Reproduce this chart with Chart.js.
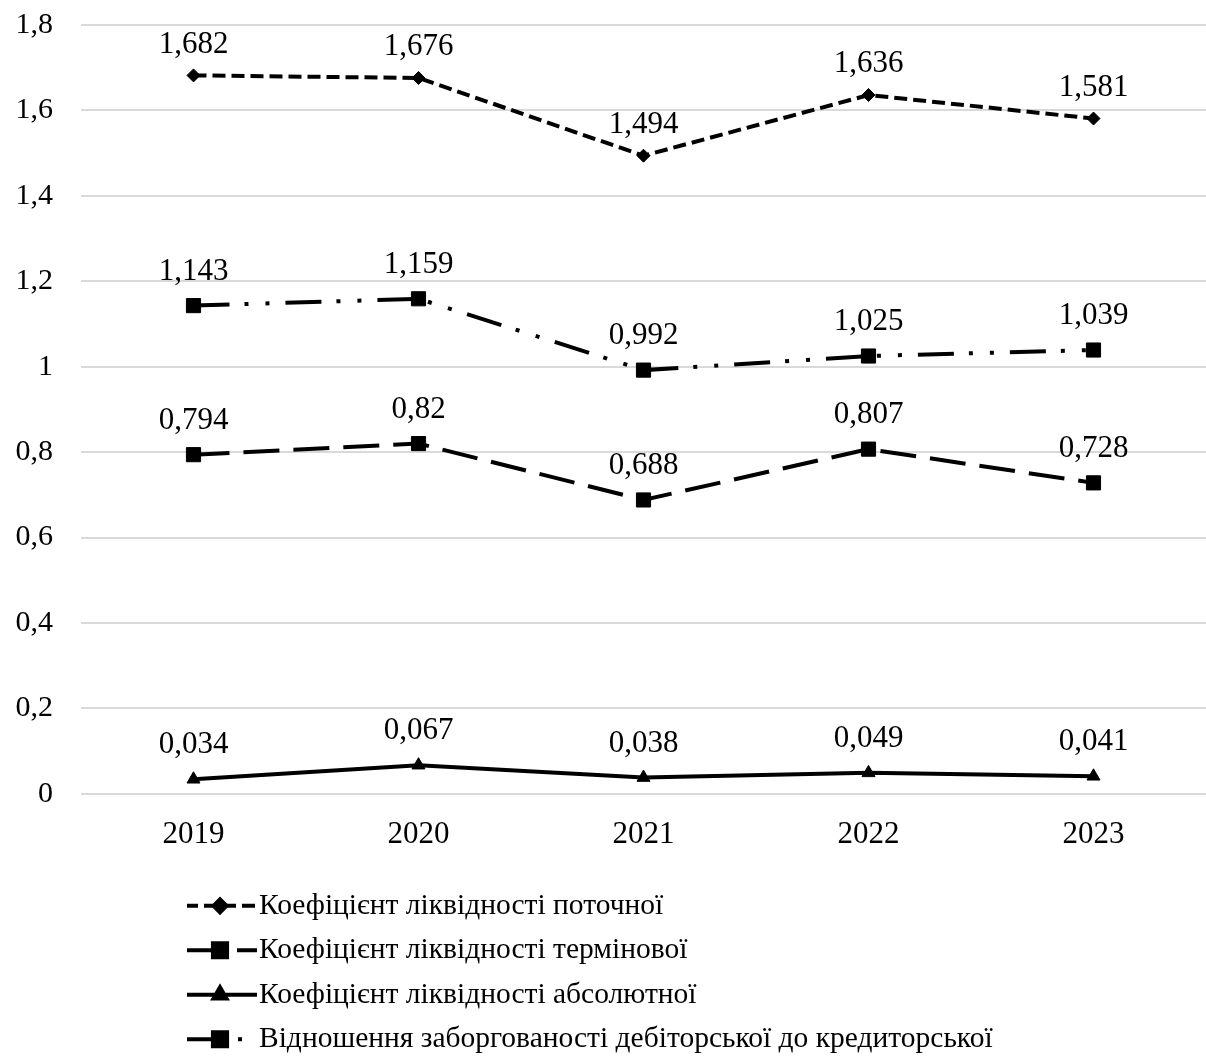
<!DOCTYPE html>
<html>
<head>
<meta charset="utf-8">
<script src="https://cdn.jsdelivr.net/npm/chart.js@4"></script>
<style>
  html, body { margin: 0; padding: 0; background: #fff; overflow: hidden; }
  canvas { display: block; }
</style>
</head>
<body>
<canvas id="c" width="1206" height="1058"></canvas>
<script>
// Years on the horizontal axis
const years = ['2019', '2020', '2021', '2022', '2023'];

// Liquidity ratios by year
const currentRatio = [1.682, 1.676, 1.494, 1.636, 1.581];
const quickRatio = [0.794, 0.82, 0.688, 0.807, 0.728];
const absoluteRatio = [0.034, 0.067, 0.038, 0.049, 0.041];
const receivablesToPayables = [1.143, 1.159, 0.992, 1.025, 1.039];

// Series names
const seriesNames = [
  'Коефіцієнт ліквідності поточної',
  'Коефіцієнт ліквідності термінової',
  'Коефіцієнт ліквідності абсолютної',
  'Відношення заборгованості дебіторської до кредиторської'
];

const FONT = "'Liberation Serif', 'Times New Roman', serif";
const fmt = v => String(v).replace('.', ',');

// Values written above each point
const valueLabels = {
  id: 'valueLabels',
  afterDatasetsDraw(chart) {
    const ctx = chart.ctx;
    ctx.save();
    ctx.font = '31px ' + FONT;
    ctx.fillStyle = '#000';
    ctx.textAlign = 'center';
    ctx.textBaseline = 'middle';
    chart.data.datasets.forEach((ds, i) => {
      const meta = chart.getDatasetMeta(i);
      const lift = ds.labelLift || 34;
      meta.data.forEach((pt, j) => {
        ctx.fillText(fmt(ds.data[j]), pt.x, pt.y - lift);
      });
    });
    ctx.restore();
  }
};

// Vertical legend below the axis
const stackedLegend = {
  id: 'stackedLegend',
  afterDraw(chart) {
    const ctx = chart.ctx;
    const x0 = 187, x1 = 257, xm = 220;
    const yStart = chart.chartArea.bottom + 112;
    const step = 44.5;
    chart.data.datasets.forEach((ds, i) => {
      const y = yStart + i * step;
      ctx.save();
      ctx.strokeStyle = '#000';
      ctx.lineWidth = ds.borderWidth;
      ctx.setLineDash(ds.borderDash || []);
      ctx.lineDashOffset = ds.legendDashOffset || 0;
      ctx.beginPath();
      ctx.moveTo(x0, y);
      ctx.lineTo(x1, y);
      ctx.stroke();
      ctx.setLineDash([]);
      Chart.helpers.drawPoint(ctx, {
        pointStyle: ds.pointStyle,
        radius: ds.pointRadius,
        borderWidth: 1,
        rotation: 0
      }, xm, y);
      ctx.fillStyle = '#000';
      ctx.fill();
      ctx.font = '29.5px ' + FONT;
      ctx.textAlign = 'left';
      ctx.textBaseline = 'middle';
      ctx.fillText(seriesNames[i], x1 + 2, y);
      ctx.restore();
    });
  }
};

const common = {
  borderColor: '#000',
  backgroundColor: '#000',
  pointBackgroundColor: '#000',
  pointBorderColor: '#000',
  pointBorderWidth: 1,
  borderWidth: 4,
  tension: 0,
  fill: false,
  borderCapStyle: 'butt'
};

new Chart(document.getElementById('c'), {
  type: 'line',
  data: {
    labels: years,
    datasets: [
      Object.assign({}, common, {
        label: seriesNames[0], data: currentRatio,
        borderDash: [13, 6], pointStyle: 'rectRot', pointRadius: 6.5,
        legendDashOffset: 2, labelLift: 31
      }),
      Object.assign({}, common, {
        label: seriesNames[1], data: quickRatio,
        borderDash: [36, 14], pointStyle: 'rect', pointRadius: 10, legendDashOffset: 0
      }),
      Object.assign({}, common, {
        label: seriesNames[2], data: absoluteRatio,
        borderDash: [], pointStyle: 'triangle', pointRadius: 7.5
      }),
      Object.assign({}, common, {
        label: seriesNames[3], data: receivablesToPayables,
        borderDash: [36, 15, 4, 17, 4, 16], pointStyle: 'rect', pointRadius: 10, legendDashOffset: 0
      })
    ]
  },
  options: {
    responsive: false,
    animation: false,
    devicePixelRatio: 1,
    layout: { autoPadding: false, padding: { left: 15, right: 0, top: 25, bottom: 183 } },
    plugins: {
      legend: { display: false },
      tooltip: { enabled: false }
    },
    scales: {
      x: {
        offset: true,
        afterFit(scale) { scale.paddingLeft = 0; scale.paddingRight = 0; },
        grid: { display: false, drawTicks: false },
        border: { display: false },
        ticks: { color: '#000', font: { family: FONT, size: 31 }, padding: 22, maxRotation: 0 }
      },
      y: {
        min: 0,
        max: 1.8,
        afterFit(scale) { scale.width = 66; scale.paddingTop = 0; scale.paddingBottom = 0; },
        grid: { color: '#d9d9d9', lineWidth: 2, drawTicks: false },
        border: { display: false },
        ticks: {
          stepSize: 0.2,
          color: '#000',
          font: { family: FONT, size: 30 },
          padding: 28,
          callback: v => fmt(Math.round(v * 10) / 10)
        }
      }
    }
  },
  plugins: [valueLabels, stackedLegend]
});
</script>
</body>
</html>
